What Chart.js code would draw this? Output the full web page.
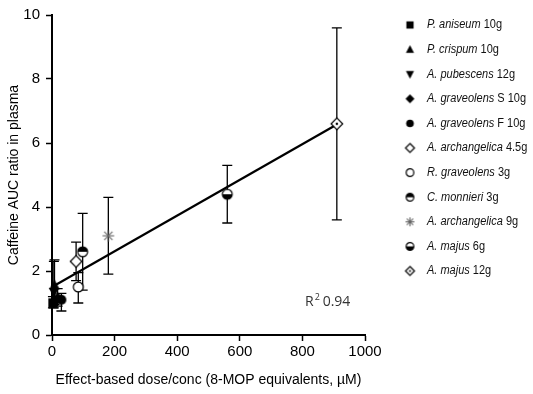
<!DOCTYPE html>
<html>
<head>
<meta charset="utf-8">
<script src="https://cdn.jsdelivr.net/npm/chart.js@4.4.1/dist/chart.umd.min.js"></script>
<style>
  html, body { margin: 0; padding: 0; background: #fff; }
  #wrap { width: 533px; height: 394px; }
</style>
</head>
<body>
<div id="wrap"><canvas id="auc"></canvas></div>
<script>
// values
const species = ['P. aniseum', 'P. crispum', 'A. pubescens', 'A. graveolens', 'A. graveolens',
  'A. archangelica', 'R. graveolens', 'C. monnieri', 'A. archangelica', 'A. majus', 'A. majus'];
const doses = ['10g', '10g', '12g', 'S 10g', 'F 10g', '4.5g', '3g', '3g', '9g', '6g', '12g'];
const doseConc = [3, 8, 6, 18, 30, 77, 84, 98, 180, 560, 910];
const aucRatio = [1.0, 1.55, 1.35, 1.15, 1.1, 2.3, 1.5, 2.6, 3.1, 4.4, 6.6];
const errLow = [0.85, 0.95, 0.85, 0.9, 0.75, 1.7, 1.0, 1.4, 1.9, 3.5, 3.6];
const errHigh = [1.2, 2.35, 2.3, 1.45, 1.3, 2.9, 1.95, 3.8, 4.3, 5.3, 9.6];
const fitX = [0, 910];
const fitY = [1.5, 6.58];
const xTicks = [0, 200, 400, 600, 800, 1000];
const yTicks = [0, 2, 4, 6, 8, 10];
const markerKinds = ['square', 'tri', 'triDown', 'diamond', 'dot', 'diamondOpen', 'circleOpen',
  'halfTop', 'star', 'halfBottom', 'diamondDot'];

const FONT = '"Liberation Sans", Arial, sans-serif';

// --- marker images ---
function makeMarker(kind, r) {
  const s = Math.ceil(r * 2 + 4);
  const c = document.createElement('canvas');
  c.width = s; c.height = s;
  const g = c.getContext('2d');
  const m = s / 2;
  g.lineWidth = 1.2;
  g.strokeStyle = '#000';
  g.fillStyle = '#000';
  const circle = () => { g.beginPath(); g.arc(m, m, r * 0.85, 0, Math.PI * 2); };
  const diamond = () => {
    g.beginPath();
    g.moveTo(m, m - r); g.lineTo(m + r, m); g.lineTo(m, m + r); g.lineTo(m - r, m);
    g.closePath();
  };
  if (kind === 'square') {
    const h = r * 0.8;
    g.fillRect(m - h, m - h, 2 * h, 2 * h);
  } else if (kind === 'tri' || kind === 'triDown') {
    const d = kind === 'tri' ? 1 : -1;
    g.beginPath();
    g.moveTo(m, m - d * r);
    g.lineTo(m + r * 0.9, m + d * r * 0.7);
    g.lineTo(m - r * 0.9, m + d * r * 0.7);
    g.closePath();
    g.fill();
  } else if (kind === 'diamond') {
    diamond(); g.fill();
  } else if (kind === 'dot') {
    circle(); g.fill();
  } else if (kind === 'diamondOpen' || kind === 'diamondDot') {
    diamond(); g.fillStyle = '#fff'; g.fill(); g.stroke();
    if (kind === 'diamondDot') {
      g.beginPath(); g.arc(m, m, r * 0.22, 0, Math.PI * 2); g.fillStyle = '#000'; g.fill();
    }
  } else if (kind === 'circleOpen') {
    circle(); g.fillStyle = '#fff'; g.fill(); g.stroke();
  } else if (kind === 'halfTop' || kind === 'halfBottom') {
    circle(); g.fillStyle = '#fff'; g.fill();
    g.beginPath();
    if (kind === 'halfTop') g.arc(m, m, r * 0.85, Math.PI, Math.PI * 2);
    else g.arc(m, m, r * 0.85, 0, Math.PI);
    g.fillStyle = '#000'; g.fill();
    circle(); g.stroke();
  } else if (kind === 'star') {
    g.strokeStyle = '#666';
    g.lineWidth = 1.1;
    for (let k = 0; k < 4; k++) {
      const a = k * Math.PI / 4;
      g.beginPath();
      g.moveTo(m - Math.cos(a) * r, m - Math.sin(a) * r);
      g.lineTo(m + Math.cos(a) * r, m + Math.sin(a) * r);
      g.stroke();
    }
  }
  return c;
}

const chartMarkers = markerKinds.map(k => makeMarker(k, 5.8));
const legendMarkers = markerKinds.map(k => makeMarker(k, 4.5));

// --- error bars ---
const errorBars = {
  id: 'errorBars',
  beforeDatasetsDraw(chart) {
    const { ctx, scales: { x, y } } = chart;
    ctx.save();
    ctx.strokeStyle = '#000';
    ctx.lineWidth = 1.3;
    doseConc.forEach((d, i) => {
      const px = x.getPixelForValue(d);
      const lo = y.getPixelForValue(errLow[i]);
      const hi = y.getPixelForValue(errHigh[i]);
      ctx.beginPath();
      ctx.moveTo(px, lo); ctx.lineTo(px, hi);
      ctx.moveTo(px - 5, lo); ctx.lineTo(px + 5, lo);
      ctx.moveTo(px - 5, hi); ctx.lineTo(px + 5, hi);
      ctx.stroke();
    });
    ctx.restore();
  }
};

// --- legend on the right + R² note ---
const sideLegend = {
  id: 'sideLegend',
  afterDraw(chart) {
    const ctx = chart.ctx;
    ctx.save();
    ctx.textBaseline = 'middle';
    ctx.fillStyle = '#111';
    const squeeze = 0.88; // the original legend font is a narrow face
    species.forEach((name, i) => {
      const yy = 25 + i * 24.6;
      const m = legendMarkers[i];
      ctx.drawImage(m, 410 - m.width / 2, yy - m.height / 2);
      ctx.save();
      ctx.translate(427, yy);
      ctx.scale(squeeze, 1);
      ctx.font = 'italic 12.5px ' + FONT;
      ctx.fillText(name, 0, 0);
      const w = ctx.measureText(name + ' ').width;
      ctx.font = '12.5px ' + FONT;
      ctx.fillText(doses[i], w, 0);
      ctx.restore();
    });

    // R² 0.94
    ctx.fillStyle = '#333';
    ctx.font = '14px "Open Sans", sans-serif';
    ctx.fillText('R', 305, 302);
    const rw = ctx.measureText('R').width;
    ctx.font = '9px "Open Sans", sans-serif';
    ctx.fillText('2', 305 + rw + 1, 297);
    ctx.font = '14px "Open Sans", sans-serif';
    ctx.fillText('0.94', 305 + rw + 9, 302);
    ctx.restore();
  }
};

const pointSets = species.map((name, i) => ({
  label: name + ' ' + doses[i],
  data: [{ x: doseConc[i], y: aucRatio[i] }],
  pointStyle: chartMarkers[i],
  pointRadius: 6,
  clip: false
}));

const fitSet = {
  type: 'line',
  label: 'fit',
  data: fitX.map((v, i) => ({ x: v, y: fitY[i] })),
  borderColor: '#000',
  borderWidth: 2.2,
  pointRadius: 0,
  fill: false,
  clip: false
};

new Chart(document.getElementById('auc'), {
  type: 'scatter',
  data: { datasets: [...pointSets, fitSet] },
  options: {
    responsive: true,
    maintainAspectRatio: false,
    animation: false,
    events: [],
    layout: { padding: { top: 12, right: 168, left: 0, bottom: 0 } },
    plugins: {
      legend: { display: false },
      tooltip: { enabled: false }
    },
    scales: {
      x: {
        type: 'linear',
        min: 0,
        max: 1000,
        afterBuildTicks: s => { s.ticks = xTicks.map(v => ({ value: v })); },
        afterFit: s => { s.height = 59; },
        ticks: {
          font: { size: 15, family: FONT }, color: '#000', padding: 2, maxRotation: 0,
          callback: v => String(v)
        },
        grid: { drawOnChartArea: false, tickLength: 6, color: '#000', tickWidth: 1.5 },
        border: { color: '#000', width: 2 },
        title: {
          display: true,
          text: 'Effect-based dose/conc (8-MOP equivalents, µM)',
          font: { size: 14, family: FONT },
          color: '#000',
          padding: { top: 0, bottom: 5 }
        }
      },
      y: {
        min: 0,
        max: 10,
        afterBuildTicks: s => { s.ticks = yTicks.map(v => ({ value: v })); },
        afterFit: s => { s.width = 52; },
        ticks: {
          font: { size: 15, family: FONT }, color: '#000', padding: 6,
          callback: v => String(v)
        },
        grid: { drawOnChartArea: false, tickLength: 6, color: '#000', tickWidth: 1.5 },
        border: { color: '#000', width: 2 },
        title: {
          display: true,
          text: 'Caffeine AUC ratio in plasma',
          font: { size: 14, family: FONT },
          color: '#000',
          padding: { top: 6, bottom: 0 }
        }
      }
    }
  },
  plugins: [errorBars, sideLegend]
});
</script>
</body>
</html>
